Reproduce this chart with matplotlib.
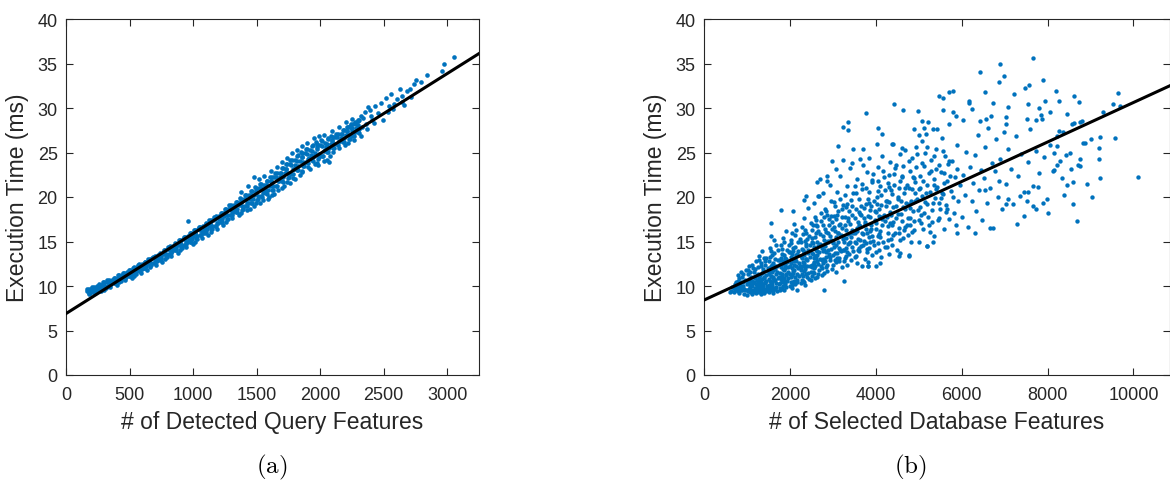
#!/usr/bin/env python3
import numpy as np
import matplotlib
matplotlib.use("Agg")
import matplotlib.pyplot as plt

# (a) execution time vs. number of detected query features
query_feats = [
	162, 179, 168, 191, 174, 211, 200, 227, 206, 235, 264, 245, 256, 278, 241,
	282, 299, 288, 311, 294, 331, 320, 347, 326, 355, 384, 365, 376, 398, 361,
	402, 419, 408, 431, 414, 451, 440, 467, 446, 475, 504, 485, 496, 518, 481,
	522, 539, 528, 551, 534, 571, 560, 587, 566, 595, 624, 605, 616, 638, 601,
	642, 659, 648, 671, 654, 691, 680, 707, 686, 715, 744, 725, 736, 758, 721,
	762, 779, 768, 791, 774, 811, 800, 827, 806, 835, 864, 845, 856, 878, 841,
	882, 899, 888, 911, 894, 931, 920, 947, 926, 955, 984, 965, 976, 998, 961,
	1002, 1019, 1008, 1031, 1014, 1051, 1040, 1067, 1046, 1075, 1104, 1085, 1096, 1118, 1081,
	1122, 1139, 1128, 1151, 1134, 1171, 1160, 1187, 1166, 1195, 1224, 1205, 1216, 1238, 1201,
	1242, 1259, 1248, 1271, 1254, 1291, 1280, 1307, 1286, 1315, 1344, 1325, 1336, 1358, 1321,
	1362, 1379, 1368, 1391, 1374, 1411, 1400, 1427, 1406, 1435, 1464, 1445, 1456, 1478, 1441,
	1482, 1499, 1488, 1511, 1494, 1531, 1520, 1547, 1526, 1555, 1584, 1565, 1576, 1598, 1561,
	1602, 1619, 1608, 1631, 1614, 1651, 1640, 1667, 1646, 1675, 1704, 1685, 1696, 1718, 1681,
	1722, 1739, 1728, 1751, 1734, 1771, 1760, 1787, 1766, 1795, 1824, 1805, 1816, 1838, 1801,
	1842, 1859, 1848, 1871, 1854, 1891, 1880, 1907, 1886, 1915, 1944, 1925, 1936, 1958, 1921,
	1962, 1979, 1968, 1991, 1974, 2011, 2000, 2027, 2006, 2035, 2064, 2045, 2056, 2078, 2041,
	2082, 2099, 2088, 2111, 2094, 2131, 2120, 2147, 2126, 2155, 2184, 2165, 2176, 2198, 2161,
	2202, 2219, 2208, 2231, 2214, 2251, 2240, 2267, 2246, 2275, 2304, 2285, 2296, 2318, 2281,
	960, 1480,
	3054, 2974, 2956, 2843, 2758, 2794, 2740, 2706, 2680, 2626, 2642, 2603, 2557, 2518, 2582,
	2544, 2479, 2428, 2376, 2351, 2492, 2423, 2369, 2299, 2273, 2235, 2531, 2454, 2647, 2711,
	2660, 2570, 2402, 2325, 2247, 2340, 2360, 2390, 2410, 2330,
]
query_ms = [
	9.4, 9.1, 9.65, 9.25, 9.5, 9.35, 9.7, 9.2, 9.85, 9.5, 10.1, 9.8, 9.6, 9.4, 9.95,
	10.0, 9.6, 10.4, 9.8, 10.2, 10.05, 10.45, 9.85, 10.65, 10.3, 10.9, 10.5, 10.3, 10.1, 10.7,
	10.8, 10.4, 11.2, 10.6, 11.0, 10.85, 11.25, 10.65, 11.45, 11.05, 11.75, 11.3, 11.1, 10.85, 11.55,
	11.6, 11.15, 12.05, 11.4, 11.85, 11.7, 12.15, 11.5, 12.4, 11.95, 12.7, 12.25, 12.0, 11.8, 12.5,
	12.55, 12.1, 13.0, 12.35, 12.8, 12.6, 13.1, 12.4, 13.3, 12.85, 13.65, 13.2, 12.95, 12.75, 13.45,
	13.55, 13.05, 14.05, 13.3, 13.8, 13.65, 14.15, 13.4, 14.4, 13.9, 14.75, 14.25, 14.0, 13.75, 14.5,
	14.6, 14.05, 15.15, 14.3, 14.85, 14.65, 15.25, 14.4, 15.5, 14.95, 15.9, 15.3, 15.0, 14.7, 15.6,
	15.65, 15.0, 16.3, 15.3, 16.0, 15.7, 16.35, 15.35, 16.65, 16.0, 17.0, 16.35, 16.0, 15.7, 16.7,
	16.75, 16.1, 17.4, 16.4, 17.1, 16.75, 17.45, 16.4, 17.8, 17.1, 18.2, 17.5, 17.15, 16.8, 17.85,
	17.9, 17.2, 18.6, 17.55, 18.25, 18.0, 18.7, 17.6, 19.1, 18.35, 19.45, 18.7, 18.3, 17.95, 19.1,
	19.05, 18.25, 19.85, 18.65, 19.45, 18.95, 19.8, 18.5, 20.2, 19.35, 20.65, 19.8, 19.35, 18.95, 20.25,
	20.2, 19.3, 21.1, 19.75, 20.65, 20.1, 21.0, 19.65, 21.45, 20.55, 21.85, 20.9, 20.45, 19.95, 21.35,
	21.25, 20.25, 22.25, 20.75, 21.75, 21.25, 22.25, 20.75, 22.75, 21.75, 23.25, 22.25, 21.75, 21.25, 22.75,
	22.7, 21.7, 23.7, 22.2, 23.2, 22.6, 23.7, 22.1, 24.2, 23.15, 24.7, 23.6, 23.05, 22.5, 24.15,
	24.0, 22.95, 25.05, 23.5, 24.5, 23.9, 24.9, 23.4, 25.4, 24.4, 25.8, 24.75, 24.2, 23.7, 25.3,
	25.0, 23.85, 26.15, 24.45, 25.6, 24.65, 25.85, 24.05, 26.45, 25.25, 26.6, 25.6, 25.1, 24.6, 26.1,
	25.95, 25.1, 26.8, 25.5, 26.4, 25.9, 26.7, 25.5, 27.1, 26.3, 27.5, 26.65, 26.2, 25.8, 27.1,
	27.0, 26.1, 27.9, 26.55, 27.45, 26.9, 27.8, 26.45, 28.25, 27.35, 28.6, 27.7, 27.25, 26.8, 28.15,
	17.3, 22.2,
	35.7, 35.0, 34.2, 33.7, 33.1, 32.9, 32.7, 32.1, 31.9, 32.1, 31.4, 31.0, 31.6, 31.1, 30.4,
	30.2, 30.6, 30.2, 30.1, 29.6, 28.6, 28.3, 27.6, 28.7, 28.4, 28.0, 29.5, 29.4, 30.7, 31.2,
	30.3, 29.9, 29.1, 29.1, 27.4, 28.9, 28.2, 29.8, 28.7, 27.9,
]
# second pass over the band, between the points above
query_feats_fill = [
	174, 184, 178, 188, 214, 224, 218, 228, 254, 264, 258, 268, 294, 304, 298, 308,
	334, 344, 338, 348, 374, 384, 378, 388, 414, 424, 418, 428, 454, 464, 458, 468,
	494, 504, 498, 508, 534, 544, 538, 548, 574, 584, 578, 588, 614, 624, 618, 628,
	654, 664, 658, 668, 694, 704, 698, 708, 734, 744, 738, 748, 774, 784, 778, 788,
	814, 824, 818, 828, 854, 864, 858, 868, 894, 904, 898, 908, 934, 944, 938, 948,
	974, 984, 978, 988, 1014, 1024, 1018, 1028, 1054, 1064, 1058, 1068, 1094, 1104, 1098, 1108,
	1134, 1144, 1138, 1148, 1174, 1184, 1178, 1188, 1214, 1224, 1218, 1228, 1254, 1264, 1258, 1268,
	1294, 1304, 1298, 1308, 1334, 1344, 1338, 1348, 1374, 1384, 1378, 1388, 1414, 1424, 1418, 1428,
	1454, 1464, 1458, 1468, 1494, 1504, 1498, 1508, 1534, 1544, 1538, 1548, 1574, 1584, 1578, 1588,
	1614, 1624, 1618, 1628, 1654, 1664, 1658, 1668, 1694, 1704, 1698, 1708, 1734, 1744, 1738, 1748,
	1774, 1784, 1778, 1788, 1814, 1824, 1818, 1828, 1854, 1864, 1858, 1868, 1894, 1904, 1898, 1908,
	1934, 1944, 1938, 1948, 1974, 1984, 1978, 1988, 2014, 2024, 2018, 2028, 2054, 2064, 2058, 2068,
	2094, 2104, 2098, 2108, 2134, 2144, 2138, 2148, 2174, 2184, 2178, 2188, 2214, 2224, 2218, 2228,
	2254, 2264, 2258, 2268, 2294, 2304, 2298, 2308,
	# points on the upper and lower fringe of the band
	1380, 1430, 1520, 1560, 1610, 1660, 1700, 1740, 1780, 1820, 1860, 1900, 1950, 1990, 2030,
	2090, 2150, 2200, 2250,
	1450, 1530, 1590, 1640, 1700, 1760, 1800, 1860, 1920, 1980, 2050, 2070,
]
query_ms_fill = [
	9.53, 9.23, 9.68, 9.38, 9.74, 9.4, 9.9, 9.57, 9.99, 9.62, 10.18, 9.81, 10.25, 9.85, 10.45, 10.05,
	10.5, 10.1, 10.7, 10.3, 10.75, 10.35, 10.95, 10.55, 11.03, 10.63, 11.23, 10.83, 11.29, 10.86, 11.5, 11.07,
	11.56, 11.11, 11.79, 11.34, 11.89, 11.44, 12.12, 11.67, 12.21, 11.76, 12.44, 11.99, 12.51, 12.06, 12.74, 12.29,
	12.81, 12.36, 13.04, 12.59, 13.14, 12.69, 13.37, 12.92, 13.5, 13.02, 13.74, 13.26, 13.85, 13.35, 14.1, 13.6,
	14.2, 13.7, 14.45, 13.95, 14.56, 14.03, 14.83, 14.3, 14.92, 14.37, 15.19, 14.64, 15.27, 14.7, 15.56, 14.99,
	15.64, 15.0, 15.95, 15.32, 15.99, 15.34, 16.32, 15.67, 16.34, 15.69, 16.67, 16.02, 16.71, 16.06, 17.04, 16.39,
	17.1, 16.42, 17.44, 16.76, 17.48, 16.78, 17.83, 17.13, 17.88, 17.18, 18.23, 17.53, 18.31, 17.58, 18.68, 17.95,
	18.72, 17.97, 19.09, 18.34, 19.08, 18.3, 19.47, 18.69, 19.41, 18.58, 19.82, 19.0, 19.79, 18.94, 20.22, 19.37,
	20.22, 19.34, 20.66, 19.78, 20.6, 19.7, 21.05, 20.15, 20.96, 20.03, 21.43, 20.5, 21.32, 20.35, 21.81, 20.84,
	21.75, 20.75, 22.25, 21.25, 22.25, 21.25, 22.75, 21.75, 22.73, 21.73, 23.23, 22.23, 23.19, 22.16, 23.7, 22.67,
	23.65, 22.57, 24.19, 23.11, 24.07, 22.99, 24.61, 23.53, 24.46, 23.43, 24.97, 23.94, 24.84, 23.81, 25.35, 24.32,
	25.15, 24.05, 25.7, 24.6, 25.42, 24.25, 26.01, 24.83, 25.7, 24.6, 26.25, 25.15, 26.01, 25.08, 26.48, 25.55,
	26.34, 25.51, 26.75, 25.92, 26.69, 25.86, 27.1, 26.27, 27.05, 26.17, 27.49, 26.61, 27.4, 26.5, 27.85, 26.95,
	27.75, 26.85, 28.2, 27.3, 28.1, 27.2, 28.55, 27.65,
	20.6, 21.2, 22.0, 22.4, 22.9, 23.4, 23.9, 24.4, 24.9, 25.3, 25.7, 26.1, 26.6, 26.9, 27.0,
	27.4, 27.9, 28.4, 28.8,
	18.6, 19.3, 19.8, 20.3, 21.0, 21.6, 22.0, 22.8, 23.2, 23.6, 24.2, 23.9,
]
query_fit = [0.00899, 6.9]

# (b) execution time vs. number of selected database features
db_feats = [
	620, 660, 700, 730, 760, 790,
	810, 820, 845, 860, 880, 900, 915, 930, 950, 965, 980, 995,
	1005, 1015, 1030, 1040, 1055, 1065, 1080, 1095, 1110, 1120, 1135, 1150, 1160, 1175, 1190, 1200, 1215, 1225, 1240, 1248,
	1255, 1262, 1270, 1282, 1290, 1300, 1312, 1320, 1330, 1342, 1350, 1362, 1370, 1380, 1392, 1400, 1412, 1420, 1432, 1440, 1455, 1465, 1480, 1492,
	1502, 1510, 1518, 1525, 1533, 1540, 1550, 1558, 1565, 1575, 1582, 1590, 1600, 1610, 1618, 1625, 1635, 1642, 1650, 1660, 1670, 1680, 1690, 1700, 1715, 1730,
	1752, 1760, 1768, 1775, 1785, 1792, 1800, 1810, 1818, 1825, 1835, 1842, 1850, 1860, 1868, 1875, 1885, 1892, 1900, 1910, 1920, 1930, 1940, 1952, 1965, 1980,
	2003, 2010, 2018, 2025, 2032, 2040, 2048, 2055, 2062, 2070, 2078, 2085, 2095, 2102, 2110, 2118, 2128, 2135, 2145, 2155, 2165, 2175, 2190, 2205, 2220, 2240,
	2252, 2260, 2268, 2275, 2285, 2292, 2300, 2310, 2318, 2325, 2335, 2342, 2350, 2360, 2368, 2375, 2385, 2392, 2400, 2410, 2420, 2432, 2445, 2460, 2475, 2490,
	2502, 2510, 2518, 2525, 2535, 2545, 2555, 2562, 2570, 2580, 2590, 2600, 2610, 2620, 2632, 2642, 2652, 2665, 2678, 2690, 2702, 2715, 2730, 2745,
	2752, 2760, 2770, 2780, 2790, 2800, 2810, 2820, 2830, 2840, 2850, 2862, 2875, 2888, 2900, 2912, 2925, 2938, 2950, 2962, 2975, 2990,
	3005, 3015, 3028, 3040, 3052, 3065, 3078, 3090, 3102, 3115, 3128, 3140, 3152, 3165, 3178, 3190, 3205, 3218, 3232, 3245,
	3255, 3262, 3275, 3288, 3300, 3312, 3325, 3338, 3350, 3362, 3375, 3388, 3400, 3412, 3425, 3440, 3455, 3470,
	3505, 3515, 3528, 3540, 3552, 3565, 3578, 3590, 3602, 3615, 3628, 3640, 3652, 3665, 3678, 3690, 3705, 3720,
	3752, 3762, 3775, 3788, 3800, 3812, 3825, 3838, 3850, 3862, 3875, 3888, 3900, 3915, 3930, 3950, 3970,
	4005, 4015, 4028, 4040, 4052, 4065, 4078, 4090, 4102, 4115, 4128, 4140, 4155, 4170, 4190, 4215,
	4255, 4268, 4280, 4292, 4305, 4318, 4330, 4342, 4355, 4368, 4380, 4395, 4412, 4430, 4460,
	4505, 4518, 4530, 4545, 4560, 4575, 4590, 4605, 4620, 4638, 4655, 4672, 4690, 4720,
	4755, 4770, 4785, 4800, 4818, 4835, 4852, 4870, 4890, 4910, 4935, 4960,
	5005, 5020, 5035, 5050, 5068, 5085, 5102, 5120, 5140, 5160, 5185, 5210,
	5255, 5272, 5290, 5308, 5325, 5345, 5365, 5385, 5410, 5435, 5470,
	5505, 5522, 5540, 5560, 5580, 5600, 5625, 5650, 5680, 5710,
	5760, 5785, 5810, 5835, 5860, 5890, 5920, 5960,
	6010, 6040, 6075, 6110, 6150, 6190, 6230,
	6265, 6300, 6335, 6370, 6410, 6445, 6480,
	6510, 6545, 6580, 6620, 6660, 6700, 6735,
	6770, 6810, 6850, 6890, 6930, 6975,
	7030, 7080, 7140, 7200, 7260, 7320, 7390, 7450,
	7540, 7600, 7660, 7720, 7790, 7850, 7920,
	8060, 8140, 8210, 8290, 8370, 8450, 8530, 8610, 8700, 8820,
	# scattered points away from the core
	7666, 6886, 6430, 6986, 6863, 7898, 7573, 7480, 8199, 9637, 8609, 5695, 5788, 5479, 5571,
	6545, 7218, 6175, 6159, 6731, 7797, 7944, 8254, 8741, 9513, 9676, 6251, 5556, 5788, 7079,
	7535, 5873, 6561, 7040, 8053, 8454, 9288, 7519, 7721, 7875, 6019, 7025, 6423, 6678, 5695,
	5416, 8262, 8570, 8764, 8800, 9010, 9212, 9576, 8880, 9189, 9205, 9228, 9033, 10116, 8593,
	8926, 8417, 8556, 8222, 8324, 8115, 8385, 8602, 7991, 7782, 7357, 7512, 7658, 7898, 7079,
	7040, 7535, 6870, 6538, 8222, 8153, 8756, 8764, 8687, 8000, 7734, 7296, 7442, 6652, 6318,
	5880, 5202, 4764, 4094, 3820,
	4428, 4637, 4992, 3770, 3230, 3346, 3353, 4041, 4141, 3121, 3469, 3710, 4018, 4373, 5085,
	5208, 4899, 5008, 5120, 4621, 2975, 2627, 2379, 2325, 2650, 2782, 3075, 3230, 3438, 3694,
	3849, 2704, 2859, 2944,
	600, 2170, 4544, 4776, 5185, 5340, 4002, 3810, 1785, 1568, 2071, 1560,
]
db_ms = [
	9.4, 9.9, 9.3, 10.2, 9.6, 10.6,
	9.2, 10.9, 9.8, 10.4, 9.5, 11.3, 10.0, 9.1, 10.7, 9.6, 11.8, 10.2,
	9.0, 10.5, 11.4, 9.7, 12.3, 10.1, 9.3, 11.0, 10.6, 9.1, 12.0, 10.3, 9.6, 11.6, 10.9, 9.2, 12.8, 10.0, 11.2, 9.5,
	10.4, 12.1, 9.3, 11.0, 13.4, 9.8, 10.7, 12.6, 9.1, 11.5, 10.2, 13.9, 9.6, 11.9, 10.9, 9.2, 12.4, 10.5, 11.2, 9.4, 13.1, 10.0, 11.7, 12.0,
	9.3, 10.8, 12.8, 11.3, 9.9, 14.3, 10.4, 12.2, 9.5, 11.6, 13.5, 10.1, 11.0, 9.2, 12.6, 10.7, 15.2, 11.9, 9.7, 13.0, 10.3, 11.4, 12.3, 9.4, 14.0, 10.9,
	10.2, 12.9, 9.5, 11.5, 14.6, 10.8, 12.1, 9.8, 13.6, 11.1, 10.4, 15.4, 12.5, 9.6, 11.8, 13.2, 10.6, 12.0, 16.2, 11.3, 9.9, 14.1, 12.7, 10.9, 11.6, 13.8,
	10.0, 12.3, 14.8, 11.0, 13.3, 9.8, 12.0, 15.9, 11.5, 13.9, 10.5, 12.8, 17.0, 11.8, 14.4, 10.2, 13.0, 12.2, 16.3, 11.3, 13.6, 10.7, 14.9, 12.6, 11.1, 15.3,
	10.3, 13.4, 12.0, 16.6, 11.3, 14.2, 10.6, 12.7, 17.6, 13.8, 11.7, 15.1, 12.3, 10.1, 14.7, 13.0, 16.0, 11.0, 12.9, 18.8, 14.0, 11.5, 15.6, 13.3, 12.2, 17.1,
	10.7, 13.7, 12.4, 16.3, 11.6, 14.8, 13.1, 19.3, 12.0, 15.5, 10.9, 14.1, 17.4, 12.8, 13.5, 16.7, 11.4, 14.5, 20.1, 13.0, 15.8, 12.3, 18.2, 14.3,
	11.2, 13.9, 16.9, 12.6, 15.2, 9.5, 14.5, 18.7, 12.1, 13.3, 16.1, 11.7, 21.8, 14.9, 13.6, 17.5, 12.9, 15.6, 19.6, 14.2, 11.9, 16.4,
	12.4, 15.0, 17.9, 13.7, 16.2, 11.6, 14.6, 20.6, 13.2, 15.9, 18.4, 12.8, 14.3, 17.0, 22.4, 13.9, 16.5, 12.1, 15.3, 19.1,
	10.6, 14.0, 16.8, 13.1, 18.9, 15.4, 12.4, 21.2, 14.7, 17.3, 13.6, 23.3, 15.9, 19.7, 12.9, 16.3, 14.4, 20.5,
	13.3, 16.0, 18.6, 14.8, 22.0, 12.6, 17.2, 15.3, 19.8, 13.9, 16.7, 24.3, 14.5, 18.0, 12.3, 21.5, 15.8, 17.6,
	13.0, 16.4, 19.2, 14.2, 22.8, 17.9, 12.7, 15.5, 20.6, 14.9, 18.5, 16.9, 13.5, 21.9, 15.1, 19.5, 17.4,
	13.8, 17.1, 20.0, 15.6, 23.4, 14.1, 18.6, 16.2, 21.2, 13.3, 19.1, 17.5, 24.6, 15.0, 18.0, 20.8,
	14.4, 17.7, 21.6, 16.0, 19.4, 13.6, 23.9, 18.3, 15.3, 20.3, 16.8, 26.0, 17.2, 22.6, 19.0,
	14.0, 18.1, 21.0, 16.5, 24.8, 13.7, 19.6, 17.3, 22.2, 15.4, 20.4, 18.7, 25.3, 16.9,
	15.7, 19.2, 22.9, 17.6, 14.9, 20.9, 24.4, 18.4, 16.3, 21.7, 25.6, 19.8,
	15.0, 18.9, 22.4, 17.1, 26.3, 20.1, 16.4, 23.5, 19.4, 27.1, 21.3, 17.8,
	16.1, 20.6, 24.2, 18.5, 27.6, 22.0, 15.6, 19.9, 25.4, 21.1, 17.6,
	18.7, 22.8, 26.6, 20.3, 16.4, 24.6, 19.1, 21.8, 23.7, 17.5,
	20.7, 24.0, 18.2, 22.3, 16.9, 25.8, 19.6, 21.4,
	17.8, 22.5, 20.2, 25.1, 16.6, 23.4, 19.5,
	21.6, 24.7, 18.4, 27.0, 20.8, 23.0, 17.4,
	22.1, 25.6, 19.3, 27.8, 21.0, 23.8, 16.5,
	22.9, 26.5, 20.0, 24.3, 18.6, 27.3,
	21.5, 25.4, 23.1, 19.2, 26.9, 22.4, 24.8, 20.6,
	23.9, 27.6, 21.2, 25.2, 22.7, 29.2, 24.5,
	25.8, 23.0, 26.9, 24.1, 27.3, 21.4, 25.0, 28.3, 23.6, 26.1,
	# scattered points away from the core
	35.6, 34.9, 34.1, 33.6, 32.9, 33.1, 32.6, 32.3, 31.9, 31.7, 31.3, 31.8, 31.9, 31.3, 31.1,
	31.8, 31.6, 30.8, 30.6, 30.6, 30.0, 30.8, 30.8, 30.7, 30.4, 30.2, 29.9, 29.8, 29.6, 30.1,
	30.4, 29.1, 28.8, 29.0, 29.6, 29.3, 29.5, 28.8, 28.6, 28.8, 28.6, 28.2, 28.5, 29.1, 28.2,
	27.6, 27.4, 28.2, 28.4, 28.5, 26.5, 26.7, 26.6, 26.1, 25.5, 24.3, 22.1, 20.0, 22.3, 21.7,
	21.5, 24.7, 23.2, 23.6, 22.1, 22.9, 20.2, 19.2, 19.8, 21.1, 20.1, 19.6, 19.0, 19.3, 19.8,
	19.2, 20.6, 21.8, 20.8, 25.7, 24.9, 24.3, 23.5, 17.3, 18.2, 18.7, 17.0, 17.9, 16.5, 15.9,
	15.9, 14.5, 13.5, 12.6, 12.3,
	30.4, 29.8, 29.7, 29.4, 27.9, 28.4, 27.5, 27.7, 27.1, 25.7, 25.4, 25.4, 25.9, 26.0, 28.5,
	28.4, 27.6, 27.0, 27.8, 25.5, 24.1, 21.7, 20.1, 19.7, 20.1, 20.5, 23.2, 24.2, 23.8, 23.6,
	24.4, 22.0, 22.4, 21.4,
	9.3, 9.5, 13.4, 13.4, 14.5, 15.0, 12.2, 12.2, 18.5, 17.1, 18.4, 15.6,
]
# extra points in the dense core of the cloud
db_feats_core = [
	705, 725, 748, 772, 795, 828, 852, 875, 905, 940, 870, 780,
	1008, 1022, 1036, 1048, 1062, 1072, 1088, 1102, 1114, 1128, 1142, 1156, 1168, 1182, 1196, 1208, 1222, 1236,
	1258, 1266, 1276, 1286, 1296, 1306, 1316, 1326, 1336, 1346, 1356, 1366, 1376, 1386, 1396, 1406, 1416, 1426, 1446, 1470,
	1505, 1514, 1522, 1530, 1538, 1546, 1554, 1562, 1570, 1579, 1587, 1596, 1605, 1614, 1622, 1631, 1646, 1656, 1666, 1686, 1706, 1724,
	1756, 1764, 1772, 1780, 1789, 1796, 1806, 1814, 1822, 1830, 1839, 1848, 1856, 1864, 1872, 1880, 1889, 1905, 1916, 1935, 1958, 1990,
	2006, 2014, 2022, 2029, 2036, 2044, 2052, 2059, 2066, 2074, 2082, 2090, 2098, 2106, 2114, 2124, 2132, 2150, 2160, 2182, 2200, 2230,
	2256, 2264, 2272, 2280, 2289, 2296, 2305, 2314, 2322, 2330, 2338, 2346, 2355, 2364, 2372, 2380, 2396, 2405, 2425, 2440, 2465, 2485,
	2506, 2514, 2522, 2530, 2540, 2550, 2558, 2566, 2575, 2585, 2595, 2605, 2615, 2626, 2638, 2648, 2660, 2684, 2708, 2738,
	2756, 2765, 2775, 2785, 2795, 2805, 2815, 2825, 2835, 2845, 2856, 2868, 2882, 2894, 2906, 2930, 2956, 2984,
	3010, 3022, 3034, 3046, 3058, 3072, 3084, 3096, 3108, 3122, 3134, 3146, 3160, 3184, 3212, 3240,
	3258, 3270, 3282, 3295, 3308, 3320, 3332, 3345, 3368, 3382, 3395, 3418, 3448, 3480,
	3510, 3522, 3535, 3548, 3560, 3585, 3598, 3610, 3634, 3660, 3672, 3700, 3735,
	3758, 3770, 3782, 3795, 3818, 3832, 3856, 3870, 3895, 3922, 3945, 3985,
	4010, 4022, 4045, 4060, 4084, 4108, 4122, 4148, 4180, 4205, 4235,
	4262, 4275, 4298, 4324, 4348, 4372, 4400, 4420, 4448, 4480,
	4512, 4538, 4565, 4595, 4630, 4660, 4685, 4705, 4740,
	4762, 4790, 4825, 4860, 4880, 4920, 4945, 4985,
	5012, 5060, 5110, 5150, 5200, 5240, 5300, 5355, 5400, 5460,
	5530, 5590, 5640, 5720, 5800, 5880,
	# the broad middle part of the cloud
	2523, 2561, 2604, 2637, 2682, 2718, 2763, 2798, 2843, 2877, 2921, 2964, 3002, 3037, 3083, 3119,
	3161, 3204, 3238, 3283, 3317, 3362, 3398, 3443, 3479, 3524, 3558, 3603, 3641, 3677, 3722, 3758,
	3803, 3839, 3882, 3918, 3963, 3998, 4043, 4077, 4122, 4158, 4203, 4239, 4283, 4318, 4362, 4397,
	4443, 4478, 4523, 4557, 4602, 4638, 4683, 4717, 4763, 4797, 4843, 4878, 4922, 4957, 5003, 5038,
	5083, 5117, 5162, 5198, 5243, 5278, 5323, 5357, 5402, 5438, 5483, 5517, 5563, 5598, 5652, 5704,
]
db_ms_core = [
	9.8, 9.5, 10.5, 9.9, 9.4, 10.1, 9.6, 11.0, 10.4, 9.7, 11.6, 11.2,
	9.6, 11.8, 9.4, 10.8, 9.9, 11.6, 10.4, 9.5, 12.4, 10.0, 9.3, 11.0, 10.5, 9.8, 11.9, 10.2, 9.4, 10.7,
	9.7, 11.4, 10.1, 12.9, 9.5, 11.2, 10.4, 9.9, 12.2, 10.8, 9.4, 11.6, 10.0, 13.2, 9.7, 11.0, 10.3, 12.8, 10.6, 9.8,
	10.1, 11.7, 9.6, 13.3, 10.6, 12.0, 9.9, 11.1, 13.9, 10.4, 12.4, 9.5, 11.8, 10.9, 13.7, 9.8, 12.3, 10.7, 14.6, 9.9, 11.6, 12.9,
	11.0, 9.8, 12.5, 10.3, 13.2, 9.7, 11.4, 14.2, 10.6, 12.8, 10.0, 11.9, 13.5, 10.9, 15.0, 10.2, 12.4, 11.2, 13.0, 10.6, 12.1, 14.6,
	11.4, 13.8, 10.4, 12.6, 15.2, 11.2, 13.6, 10.1, 12.9, 11.7, 14.3, 10.6, 13.1, 12.4, 11.0, 15.7, 12.8, 13.5, 10.4, 12.0, 13.9, 12.3,
	11.8, 14.9, 10.7, 13.1, 12.3, 15.8, 11.1, 14.0, 12.6, 10.4, 13.5, 16.3, 11.9, 13.0, 11.4, 14.5, 12.2, 15.3, 13.7, 10.8, 14.6, 11.6,
	12.1, 15.0, 11.1, 13.6, 16.9, 12.7, 14.4, 11.5, 17.8, 13.4, 12.2, 15.9, 13.1, 11.0, 14.9, 12.5, 16.2, 13.8, 14.7, 12.9,
	12.0, 15.6, 13.0, 17.7, 11.5, 14.0, 16.4, 12.8, 15.0, 13.8, 18.0, 12.4, 15.9, 14.1, 16.8, 13.3, 15.2, 17.2,
	13.5, 16.6, 14.4, 19.0, 12.9, 17.5, 15.5, 13.7, 18.0, 14.9, 16.9, 13.2, 19.8, 15.7, 17.8, 14.0,
	15.0, 12.8, 17.8, 14.3, 16.3, 19.2, 13.8, 15.8, 18.4, 14.8, 17.0, 15.5, 18.0, 16.0,
	15.0, 17.6, 13.4, 20.4, 16.2, 14.0, 18.3, 16.8, 15.2, 19.0, 16.0, 14.6, 18.8,
	17.2, 14.8, 21.0, 16.0, 19.8, 14.3, 17.8, 16.2, 19.0, 15.6, 22.6, 18.4,
	16.4, 19.2, 14.8, 21.8, 17.9, 15.5, 20.2, 16.8, 22.2, 17.3, 19.6,
	19.6, 15.2, 22.5, 17.1, 20.8, 14.6, 18.9, 21.4, 16.0, 23.6,
	19.8, 15.9, 21.8, 18.1, 23.5, 16.3, 21.0, 19.3, 17.6,
	21.0, 16.8, 19.6, 22.3, 17.3, 20.4, 23.4, 18.5,
	20.9, 18.0, 21.8, 24.9, 19.2, 22.7, 17.2, 21.3, 23.2, 19.3,
	20.5, 22.7, 18.3, 22.4, 20.0, 23.2,
	15.4, 12.6, 16.8, 13.9, 11.8, 17.3, 14.6, 12.9, 18.4, 15.1, 13.4, 17.9, 14.8, 19.4, 12.7, 16.0,
	14.1, 18.7, 15.6, 20.2, 13.4, 17.6, 15.0, 19.0, 13.9, 21.2, 16.5, 14.3, 18.1, 20.9, 15.1, 17.0,
	13.8, 19.3, 16.4, 21.7, 14.6, 18.3, 20.7, 15.8, 17.7, 22.9, 14.4, 19.0, 16.7, 21.1, 18.0, 15.7,
	23.3, 17.6, 20.0, 15.2, 22.4, 18.9, 16.6, 21.4, 24.0, 18.8, 16.1, 22.1, 19.5, 24.8, 17.4, 21.0,
	23.8, 18.2, 20.5, 25.6, 16.9, 22.9, 19.3, 24.6, 20.9, 17.4, 23.6, 19.9, 25.2, 21.6, 18.6, 24.1,
]
db_fit = [0.00222, 8.42]

BLUE = "#0072BD"
AXIS_GRAY = "#262626"


def style_axes(ax, xlim, xticks):
	ax.set_xlim(xlim)
	ax.set_ylim(0, 40)
	ax.set_xticks(xticks)
	ax.set_yticks(range(0, 41, 5))
	ax.tick_params(direction="in", top=True, right=True, length=5, width=0.8,
				   colors=AXIS_GRAY, labelsize=13)
	ax.tick_params(axis="x", pad=8)
	ax.tick_params(axis="y", pad=6)
	for spine in ax.spines.values():
		spine.set_color(AXIS_GRAY)
		spine.set_linewidth(0.8)
	ax.set_ylabel("Execution Time (ms)", fontsize=16.5, color=AXIS_GRAY, labelpad=6)


def draw_panel(ax, feats, ms, fit, xlim, xticks, xlabel, size):
	ax.scatter(feats, ms, s=size, color=BLUE, linewidths=0, zorder=2)
	xs = np.array(xlim)
	ax.plot(xs, np.polyval(fit, xs), color="black", linewidth=2.2, zorder=3)
	style_axes(ax, xlim, xticks)
	ax.set_xlabel(xlabel, fontsize=16.5, color=AXIS_GRAY, labelpad=5)


def main():
	plt.rcParams["font.family"] = ["Liberation Sans", "DejaVu Sans"]
	plt.rcParams["mathtext.fontset"] = "cm"

	fig = plt.figure(figsize=(11.7, 4.85), dpi=100)
	W, H = 1170.0, 485.0
	ax_a = fig.add_axes([66 / W, 109 / H, 413 / W, 356 / H])
	ax_b = fig.add_axes([704 / W, 109 / H, 466 / W, 356 / H])

	draw_panel(ax_a, query_feats + query_feats_fill, query_ms + query_ms_fill, query_fit,
			   (0, 3250), range(0, 3001, 500), "# of Detected Query Features", 11)
	draw_panel(ax_b, db_feats + db_feats_core, db_ms + db_ms_core, db_fit,
			   (0, 10850), range(0, 10001, 2000), "# of Selected Database Features", 10)

	fig.text(272 / W, 18 / H, r"$\mathrm{(a)}$", fontsize=18, ha="center", va="center")
	fig.text(910 / W, 18 / H, r"$\mathrm{(b)}$", fontsize=18, ha="center", va="center")

	fig.savefig("out.png", dpi=100)
	plt.close(fig)


if __name__ == "__main__":
	main()
